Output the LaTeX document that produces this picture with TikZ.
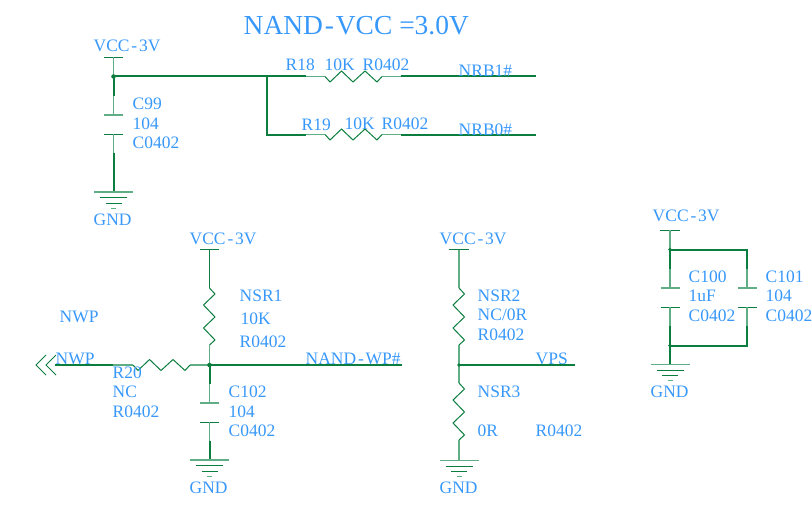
\documentclass[tikz,border=0pt]{standalone}
\usepackage{fontspec}
\setmainfont{Liberation Serif}
\definecolor{lbl}{HTML}{3798FA}
\definecolor{wirec}{HTML}{0B7D3E}
\definecolor{thinc}{HTML}{5FAE86}
\newcommand{\hyp}{\kern1.4pt-\kern1.4pt}
\tikzset{
  x=0.75pt,y=-0.75pt,
  lab/.style={anchor=base west,inner sep=0pt,xshift=-0.4pt,text=lbl,font=\fontsize{13.1}{15}\selectfont},
  ttl/.style={lab,font=\fontsize{20.6}{24}\selectfont},
  bus/.style={draw=wirec,line width=1.5pt},
  lead/.style={draw=thinc,line width=1pt},
  zig/.style={draw=wirec,line width=0.75pt,line join=miter},
  plate/.style={draw=wirec,line width=0.75pt},
  dot/.style={fill=wirec,circle,inner sep=0pt,minimum size=3.4pt},
  gnd/.pic={
    \draw[plate,line width=1.1pt,draw=thinc] (-19.5,0) -- (19.5,0);
    \draw[plate] (-13.5,5.5) -- (13.5,5.5);
    \draw[plate] (-8,11) -- (8,11);
    \draw[plate,draw=thinc] (-2.5,16) -- (2.5,16);
  },
  capv/.pic={
    \draw[plate,draw=thinc,line width=1pt] (-9.5,0) -- (9.5,0);
    \draw[plate] (-9.5,19) -- (9.5,19);
  },
  resh/.pic={
    \draw[zig] (0,0) -- (5,5.5) -- (16.5,-5.5) -- (28,5.5) -- (40,-5.5) -- (52,5.5) -- (57,0);
  },
  resv/.pic={
    \draw[zig] (0,0) -- (5.5,6) -- (-6,17) -- (5.5,29) -- (-6,40) -- (5.5,52) -- (0,57);
  },
}
\begin{document}
\begin{tikzpicture}
\useasboundingbox (0,0) rectangle (812,506);
% ---------- top block
\coordinate (v1) at (113.5,57.5);
\coordinate (j1) at (113.5,76.5);
\coordinate (c99t) at (113.5,115);
\coordinate (c99b) at (113.5,134);
\coordinate (g1) at (113.5,192);
\coordinate (j2) at (267,76.5);
\coordinate (b2) at (267,134.5);
\coordinate (r18a) at (306,76.5);
\coordinate (r18l) at (325,76.5);
\coordinate (r18r) at (382,76.5);
\coordinate (r18b) at (401,76.5);
\coordinate (nrb1) at (536,76.5);
\coordinate (r19a) at (306,134.5);
\coordinate (r19l) at (325,134.5);
\coordinate (r19r) at (382,134.5);
\coordinate (r19b) at (401,134.5);
\coordinate (nrb0) at (536,134.5);
\draw[plate] (104,57.5) -- (123,57.5);
\draw[lead] (v1) -- (j1);
\draw[bus] (j1) -- (113.5,96);
\draw[lead] (113.5,96) -- (c99t);
\pic at (c99t) {capv};
\draw[lead] (c99b) -- (113.5,153);
\draw[bus] (113.5,153) -- (g1);
\pic at (g1) {gnd};
\draw[bus] (j1) -- (r18a);
\draw[lead] (r18a) -- (r18l) (r18r) -- (r18b);
\pic at (r18l) {resh};
\draw[bus] (r18b) -- (nrb1);
\draw[bus,line join=miter] (j2) -- (b2) -- (r19a);
\draw[lead] (r19a) -- (r19l) (r19r) -- (r19b);
\pic at (r19l) {resh};
\draw[bus] (r19b) -- (nrb0);
\node[dot] (d1) at (j1) {};
\node[dot,minimum size=2.6pt] (d2) at (j2) {};
\node[ttl] (title) at (244,35) {NAND\hyp VCC =3.0V};
\node[lab] (t1) at (94,52) {VCC\hyp 3V};
\node[lab] (t2) at (133,109) {C99};
\node[lab] (t3) at (133,129) {104};
\node[lab] (t4) at (133,148) {C0402};
\node[lab] (t5) at (94,225) {GND};
\node[lab] (t6) at (286,71) {R18};
\node[lab] (t7) at (325,71) {10K};
\node[lab] (t8) at (363,71) {R0402};
\node[lab] (t9) at (459,77) {NRB1\#};
\node[lab] (t10) at (302,130) {R19};
\node[lab] (t11) at (345,129) {10K};
\node[lab] (t12) at (382,129) {R0402};
\node[lab] (t13) at (459,135) {NRB0\#};
% ---------- NWP block
\coordinate (v2) at (209.5,249.5);
\coordinate (r1t) at (209.5,288);
\coordinate (r1b) at (209.5,345);
\coordinate (j3) at (209.5,365);
\coordinate (c102t) at (209.5,403);
\coordinate (c102b) at (209.5,422);
\coordinate (g2) at (209.5,460);
\coordinate (nwp) at (55,365);
\coordinate (r20a) at (113,365);
\coordinate (r20l) at (133,365);
\coordinate (r20r) at (190,365);
\coordinate (wp) at (402,365);
\draw[plate] (200,249.5) -- (219,249.5);
\draw[lead,draw=wirec,line width=.8pt] (v2) -- (r1t);
\pic at (r1t) {resv};
\draw[lead] (r1b) -- (j3);
\draw[bus] (j3) -- (209.5,384);
\draw[lead] (209.5,384) -- (c102t);
\pic at (c102t) {capv};
\draw[lead] (c102b) -- (209.5,441);
\draw[bus] (209.5,441) -- (g2);
\pic at (g2) {gnd};
\draw[bus] (nwp) -- (r20a);
\draw[lead] (r20a) -- (r20l) (r20r) -- (j3);
\pic at (r20l) {resh};
\draw[bus] (j3) -- (wp);
\node[dot] (d3) at (j3) {};
\draw[zig,line width=.6pt] (46,355) -- (36,365) -- (46,375) (56,355) -- (46,365) -- (56,375);
\node[lab] (n1) at (190,244) {VCC\hyp 3V};
\node[lab] (n2) at (240,301) {NSR1};
\node[lab] (n3) at (241,324) {10K};
\node[lab] (n4) at (240,347) {R0402};
\node[lab] (n5) at (60,322) {NWP};
\node[lab] (n6) at (56,364) {NWP};
\node[lab] (n7) at (306,364) {NAND\hyp WP\#};
\node[lab] (n8) at (113,378) {R20};
\node[lab] (n9) at (113,397) {NC};
\node[lab] (n10) at (113,417) {R0402};
\node[lab] (n11) at (229,397) {C102};
\node[lab] (n12) at (229,417) {104};
\node[lab] (n13) at (229,436) {C0402};
\node[lab] (n14) at (190,493) {GND};
% ---------- VPS block
\coordinate (v3) at (459,249.5);
\coordinate (r2t) at (459,288);
\coordinate (r2b) at (459,345);
\coordinate (j4) at (459,365);
\coordinate (r3t) at (459,383);
\coordinate (r3b) at (459,440);
\coordinate (g3) at (459,460.5);
\coordinate (vps) at (575,365);
\draw[plate] (449,249.5) -- (468.5,249.5);
\draw[lead] (v3) -- (r2t);
\pic at (r2t) {resv};
\draw[lead] (r2b) -- (j4) -- (r3t);
\pic at (r3t) {resv};
\draw[lead] (r3b) -- (g3);
\pic at (g3) {gnd};
\draw[bus] (j4) -- (vps);
\node[dot,minimum size=2.8pt] (d4) at (j4) {};
\node[lab] (p1) at (440,244) {VCC\hyp 3V};
\node[lab] (p2) at (478,301) {NSR2};
\node[lab] (p3) at (478,320) {NC/0R};
\node[lab] (p4) at (478,340) {R0402};
\node[lab] (p5) at (536,364) {VPS};
\node[lab] (p6) at (478,397) {NSR3};
\node[lab] (p7) at (478,436) {0R};
\node[lab] (p8) at (536,436) {R0402};
\node[lab] (p9) at (440,493) {GND};
% ---------- right block
\coordinate (v4) at (670,230);
\coordinate (j5) at (670,249.5);
\coordinate (c100t) at (670,288);
\coordinate (c100b) at (670,307);
\coordinate (j6) at (670,345.5);
\coordinate (g4) at (670,364.5);
\coordinate (tr) at (747,249.5);
\coordinate (c101t) at (747,288);
\coordinate (c101b) at (747,307);
\coordinate (br) at (747,345.5);
\draw[plate] (660,230) -- (680,230);
\draw[lead] (v4) -- (j5);
\draw[bus] (j5) -- (670,269);
\draw[lead] (670,269) -- (c100t);
\pic at (c100t) {capv};
\draw[lead] (c100b) -- (670,326);
\draw[bus] (670,326) -- (g4);
\pic at (g4) {gnd};
\draw[bus,line cap=rect] (j5) -- (tr);
\draw[bus] (tr) -- (747,269);
\draw[lead] (747,269) -- (c101t);
\pic at (c101t) {capv};
\draw[lead] (c101b) -- (747,326);
\draw[bus] (747,326) -- (br);
\draw[bus,line cap=rect] (j6) -- (br);
\node[dot,minimum size=2.8pt] (d5) at (j5) {};
\node[dot,minimum size=2.8pt] (d6) at (j6) {};
\node[lab] (q1) at (653,221) {VCC\hyp 3V};
\node[lab] (q2) at (689,282) {C100};
\node[lab] (q3) at (689,301) {1uF};
\node[lab] (q4) at (689,321) {C0402};
\node[lab] (q5) at (766,282) {C101};
\node[lab] (q6) at (766,301) {104};
\node[lab] (q7) at (766,321) {C0402};
\node[lab] (q8) at (651,397) {GND};
\end{tikzpicture}
\end{document}
